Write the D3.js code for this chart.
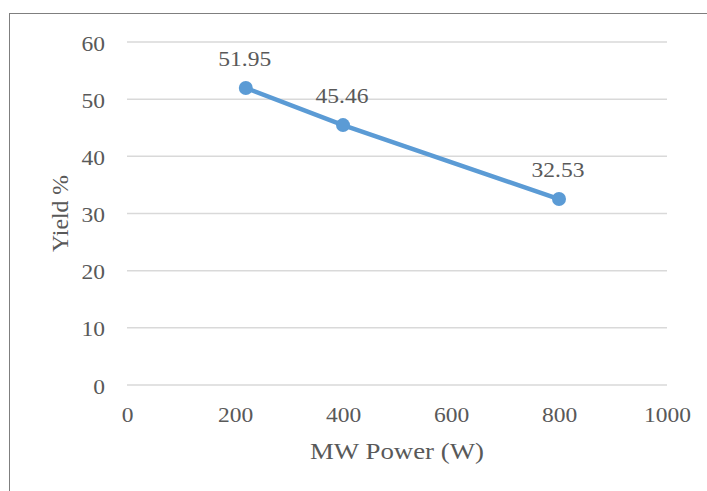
<!DOCTYPE html>
<html>
<head>
<meta charset="utf-8">
<script src="https://cdn.jsdelivr.net/npm/d3@7"></script>
<style>
  html, body { margin: 0; padding: 0; background: #fff; }
  svg { display: block; }
  text { font-family: "Liberation Serif", "Times New Roman", serif; fill: #595959; }
</style>
</head>
<body>
<svg id="chart" width="707" height="491"></svg>
<script>
const powers = [220, 400, 800];
const yields = [51.95, 45.46, 32.53];
const xTicks = [0, 200, 400, 600, 800, 1000];
const yTicks = [0, 10, 20, 30, 40, 50, 60];
const xTitle = "MW Power (W)";
const yTitle = "Yield %";

const W = 707, H = 491;
const margin = { left: 127, right: 40, top: 42, bottom: 106 };
const SX = 1.12;

const svg = d3.select("#chart");

// outer frame (only left and top edges visible)
svg.append("rect")
  .attr("x", 9.5).attr("y", 13.5)
  .attr("width", W + 20).attr("height", H + 20)
  .attr("fill", "none").attr("stroke", "#7f7f7f").attr("stroke-width", 1);

const x = d3.scaleLinear().domain([0, 1000]).range([margin.left, W - margin.right]);
const y = d3.scaleLinear().domain([0, 60]).range([H - margin.bottom, margin.top]);

// gridlines
svg.append("g")
  .selectAll("line")
  .data(yTicks)
  .join("line")
  .attr("x1", x(0)).attr("x2", x(1000))
  .attr("y1", d => y(d)).attr("y2", d => y(d))
  .attr("stroke", "#d9d9d9").attr("stroke-width", 1.5);

// y axis labels
const yAxis = svg.append("g")
  .attr("transform", `translate(${x(0)},0)`)
  .call(d3.axisLeft(y).tickValues(yTicks).tickFormat(d3.format("d")).tickSize(0).tickPadding(0));
yAxis.select(".domain").remove();
yAxis.selectAll("text")
  .attr("x", 0)
  .attr("dy", null)
  .attr("y", 0)
  .attr("dominant-baseline", "central")
  .attr("text-anchor", "end")
  .attr("transform", `translate(-22,1) scale(${SX},1)`)
  .style("font-size", "21px")
  .attr("fill", "#595959");

// x axis labels
const xAxis = svg.append("g")
  .attr("transform", `translate(0,${y(0)})`)
  .call(d3.axisBottom(x).tickValues(xTicks).tickFormat(d3.format("d")).tickSize(0).tickPadding(0));
xAxis.select(".domain").remove();
xAxis.selectAll("text")
  .attr("y", 0).attr("dy", null)
  .attr("text-anchor", "middle")
  .attr("transform", `translate(0,37) scale(${SX},1)`)
  .style("font-size", "21px")
  .attr("fill", "#595959");

// line
const pts = powers.map((p, i) => [p, yields[i]]);
svg.append("path")
  .datum(pts)
  .attr("fill", "none")
  .attr("stroke", "#5b9bd5")
  .attr("stroke-width", 4.5)
  .attr("stroke-linejoin", "round")
  .attr("stroke-linecap", "round")
  .attr("d", d3.line().x(d => x(d[0])).y(d => y(d[1])));

svg.append("g")
  .selectAll("circle")
  .data(pts)
  .join("circle")
  .attr("cx", d => x(d[0])).attr("cy", d => y(d[1]))
  .attr("r", 7)
  .attr("fill", "#5b9bd5");

// data labels
svg.append("g")
  .selectAll("text")
  .data(pts)
  .join("text")
  .attr("text-anchor", "middle")
  .attr("transform", d => `translate(${x(d[0]) - 1},${y(d[1]) - 22}) scale(${SX},1)`)
  .style("font-size", "21px")
  .text(d => d[1].toFixed(2));

// axis titles
svg.append("text")
  .attr("x", (x(0) + x(1000)) / 2)
  .attr("y", 459)
  .attr("text-anchor", "middle")
  .attr("textLength", 174)
  .attr("lengthAdjust", "spacingAndGlyphs")
  .style("font-size", "22.5px")
  .text(xTitle);

svg.append("text")
  .attr("transform", `translate(68,${y(30) + 0}) rotate(-90)`)
  .attr("text-anchor", "middle")
  .attr("textLength", 77)
  .attr("lengthAdjust", "spacingAndGlyphs")
  .style("font-size", "22.5px")
  .text(yTitle);
</script>
</body>
</html>
